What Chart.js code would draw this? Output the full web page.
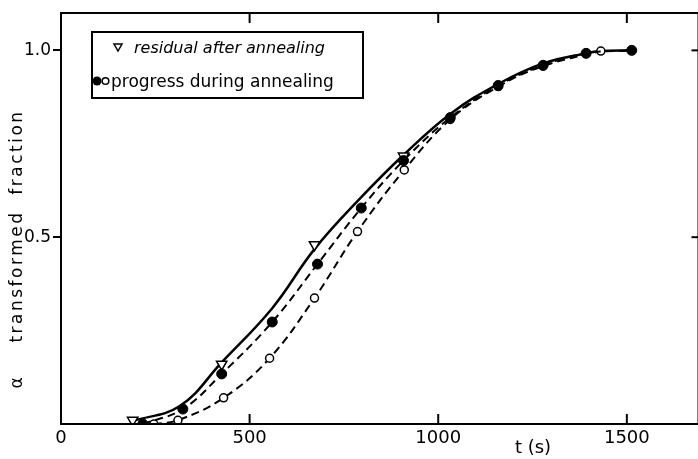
<!DOCTYPE html>
<html>
<head>
<meta charset="utf-8">
<script src="https://cdn.jsdelivr.net/npm/chart.js@4.4.0/dist/chart.umd.min.js"></script>
<style>
body { margin: 0; background: #fff; overflow: hidden; }
#box { width: 706px; height: 459px; }
</style>
</head>
<body>
<div id="box"><canvas id="c" width="706" height="459"></canvas></div>
<script>
// residual after annealing (open triangles)
var triT = [190, 426, 672, 908];
var triA = [0.01, 0.16, 0.48, 0.717];
// solid curve through the residual points
var solidT = [190, 315, 426, 560, 672, 796, 908, 1032, 1159, 1278, 1392, 1431, 1513];
var solidA = [0.008, 0.048, 0.165, 0.31, 0.468, 0.607, 0.72, 0.83, 0.91, 0.965, 0.992, 0.998, 1.0];
// progress during annealing, filled circles
var fullT = [217, 323, 426, 560, 680, 796, 908, 1032, 1159, 1278, 1392, 1513];
var fullA = [0.0, 0.04, 0.134, 0.273, 0.428, 0.578, 0.705, 0.82, 0.906, 0.96, 0.992, 1.0];
// progress during annealing, open circles
var openT = [246, 310, 431, 553, 672, 786, 910, 1032, 1159, 1278, 1431];
var openA = [0.0, 0.01, 0.07, 0.176, 0.337, 0.515, 0.68, 0.815, 0.903, 0.958, 0.998];
var xTicks = [0, 500, 1000, 1500];
var yTicks = [0.5, 1.0];

function pts(t, a) {
  return t.map(function (v, i) { return { x: v, y: a[i] }; });
}

var FONT = 'DejaVu Sans';

// frame, inward ticks, titles and legend box
var decor = {
  id: 'decor',
  afterDraw: function (chart) {
    var ctx = chart.ctx, a = chart.chartArea;
    var xs = chart.scales.x, ys = chart.scales.y;
    function seg(x1, y1, x2, y2) {
      ctx.beginPath(); ctx.moveTo(x1, y1); ctx.lineTo(x2, y2); ctx.stroke();
    }
    ctx.save();
    ctx.strokeStyle = '#000';
    ctx.fillStyle = '#000';
    ctx.lineWidth = 2;
    ctx.strokeRect(a.left, a.top, a.right - a.left, a.bottom - a.top);
    xTicks.forEach(function (v) {
      if (v === 0) return;
      var px = xs.getPixelForValue(v);
      seg(px, a.bottom, px, a.bottom - 10);
      seg(px, a.top, px, a.top + 10);
    });
    yTicks.forEach(function (v) {
      var py = ys.getPixelForValue(v);
      seg(a.right, py, a.right - 7, py);
    });

    // x title
    ctx.font = '18px "' + FONT + '"';
    ctx.textAlign = 'center';
    ctx.textBaseline = 'middle';
    ctx.fillText('t (s)', 533, 448);

    // y title
    ctx.save();
    ctx.translate(22, 0);
    ctx.rotate(-Math.PI / 2);
    ctx.font = '17px "' + FONT + '"';
    ctx.textBaseline = 'alphabetic';
    ctx.textAlign = 'center';
    ctx.fillText('α', -383, 0);
    ctx.letterSpacing = '2.5px';
    ctx.fillText('transformed  fraction', -226, 0);
    ctx.restore();

    // legend
    ctx.lineWidth = 2;
    ctx.strokeRect(92, 32, 271, 66);
    ctx.lineWidth = 1.5;
    ctx.beginPath();
    ctx.moveTo(114, 44); ctx.lineTo(122, 44); ctx.lineTo(118, 51); ctx.closePath();
    ctx.stroke();
    ctx.textAlign = 'left';
    ctx.textBaseline = 'alphabetic';
    ctx.font = 'italic 16px "' + FONT + '"';
    ctx.fillText('residual after annealing', 134, 53);
    ctx.beginPath(); ctx.arc(97, 81, 4.5, 0, Math.PI * 2); ctx.fill();
    ctx.beginPath(); ctx.arc(105.5, 81, 3.3, 0, Math.PI * 2); ctx.stroke();
    ctx.font = '17px "' + FONT + '"';
    ctx.fillText('progress during annealing', 111, 87);
    ctx.restore();
  }
};

new Chart(document.getElementById('c').getContext('2d'), {
  type: 'line',
  data: {
    datasets: [{
      label: 'progress (filled)',
      data: pts(fullT, fullA),
      borderColor: '#000',
      borderWidth: 2,
      borderDash: [8, 5],
      tension: 0.4,
      pointRadius: 5,
      pointBackgroundColor: '#000',
      pointBorderColor: '#000',
      pointBorderWidth: 1
    }, {
      label: 'residual after annealing',
      data: pts(triT, triA),
      showLine: false,
      pointStyle: 'triangle',
      rotation: 180,
      pointRadius: 6,
      pointBackgroundColor: '#fff',
      pointBorderColor: '#000',
      pointBorderWidth: 1.5
    }, {
      label: 'progress (open)',
      data: pts(openT, openA),
      borderColor: '#000',
      borderWidth: 2,
      borderDash: [8, 5],
      tension: 0.4,
      pointRadius: 4,
      pointBackgroundColor: '#fff',
      pointBorderColor: '#000',
      pointBorderWidth: 1.5
    }, {
      label: 'residual curve',
      data: pts(solidT, solidA),
      borderColor: '#000',
      borderWidth: 2.5,
      tension: 0.4,
      pointRadius: 0
    }]
  },
  options: {
    responsive: false,
    animation: false,
    layout: { padding: { top: 13, right: 6, left: 0, bottom: 0 } },
    plugins: { legend: { display: false }, tooltip: { enabled: false } },
    scales: {
      x: {
        type: 'linear', min: 0, max: 1690,
        afterBuildTicks: function (s) { s.ticks = xTicks.map(function (v) { return { value: v }; }); },
        afterFit: function (s) { s.height = 35; },
        grid: { display: false, drawTicks: false },
        border: { display: false },
        ticks: { color: '#000', font: { family: FONT, size: 18 }, padding: 4, maxRotation: 0, autoSkip: false,
          callback: function (v) { return String(v); } }
      },
      y: {
        type: 'linear', min: 0, max: 1.1,
        afterBuildTicks: function (s) { s.ticks = yTicks.map(function (v) { return { value: v }; }); },
        afterFit: function (s) { s.width = 61; },
        grid: { drawOnChartArea: false, drawTicks: true, tickLength: 8, color: '#000', lineWidth: 2 },
        border: { display: false },
        ticks: { color: '#000', font: { family: FONT, size: 17 }, padding: 2,
          callback: function (v) { return v.toFixed(1); } }
      }
    }
  },
  plugins: [decor]
});
</script>
</body>
</html>
